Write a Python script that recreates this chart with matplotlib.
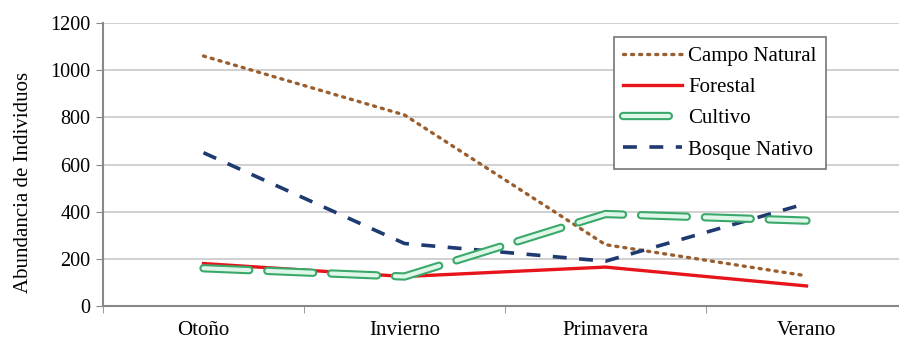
import matplotlib
matplotlib.use("Agg")
import matplotlib.pyplot as plt

plt.rcParams['font.family'] = ['Liberation Serif', 'DejaVu Serif']
plt.rcParams['lines.scale_dashes'] = False

categories = ["Otoño", "Invierno", "Primavera", "Verano"]
campo_natural = [1060, 810, 260, 128]
forestal = [180, 125, 165, 85]
cultivo = [160, 125, 390, 362]
bosque_nativo = [650, 265, 190, 435]
y_ticks = [0, 200, 400, 600, 800, 1000, 1200]

fig = plt.figure(figsize=(8.99, 3.42), dpi=100)
ax = fig.add_axes([103/899, 36/342, 804/899, 283/342])

x = list(range(len(categories)))

l_campo, = ax.plot(x, campo_natural, color='#9a5e2e', lw=2.4,
                   linestyle=(0, (1.5, 4.3)), dash_capstyle='round', zorder=3)
l_for, = ax.plot(x, forestal, color='#e8141c', lw=2.4, zorder=4)
l_cul_o, = ax.plot(x, cultivo, color='#3aa86a', lw=6.0,
                   linestyle=(0, (33, 13)), dash_capstyle='round', zorder=5)
l_cul_i, = ax.plot(x, cultivo, color='#dff7e8', lw=3.0,
                   linestyle=(0, (33, 13)), dash_capstyle='round', zorder=6)
l_bos, = ax.plot(x, bosque_nativo, color='#1e3a70', lw=2.6,
                 linestyle=(0, (10, 9)), dash_capstyle='butt', zorder=4)

ax.set_xlim(-0.5, len(categories) - 0.5)
ax.set_ylim(0, 1200)
ax.set_yticks(y_ticks)
ax.set_xticks(x)
ax.set_xticklabels(categories)
ax.set_xticks([i - 0.5 for i in range(len(categories) + 1)], minor=True)
ax.tick_params(axis='x', which='major', length=0, labelsize=15, pad=11)
ax.tick_params(axis='x', which='minor', length=5, color='#888888', direction='out')
ax.tick_params(axis='y', length=5, color='#888888', labelsize=14.5, pad=4)
ax.yaxis.grid(True, color='#c8c8c8', lw=1.2)
ax.set_axisbelow(True)
for s in ['top', 'right']:
    ax.spines[s].set_visible(False)
for s in ['left', 'bottom']:
    ax.spines[s].set_color('#888888')
    ax.spines[s].set_linewidth(1.5)

ax.set_ylabel("Abundancia de Individuos", fontsize=15)
ax.yaxis.set_label_coords(-70/804, 0.435)

leg = ax.legend([l_campo, l_for, (l_cul_o, l_cul_i), l_bos],
                ["Campo Natural", "Forestal", "Cultivo", "Bosque Nativo"],
                loc='upper left', bbox_to_anchor=(511/804, 1 - 14/283),
                fontsize=15, frameon=True, fancybox=False, shadow=False,
                handlelength=2.8, handletextpad=0.3, labelspacing=0.56,
                borderpad=0.45, borderaxespad=0)
leg.get_frame().set_edgecolor('#777777')
leg.get_frame().set_linewidth(1.2)
leg.get_frame().set_alpha(1)

fig.savefig("out.png", dpi=100)
